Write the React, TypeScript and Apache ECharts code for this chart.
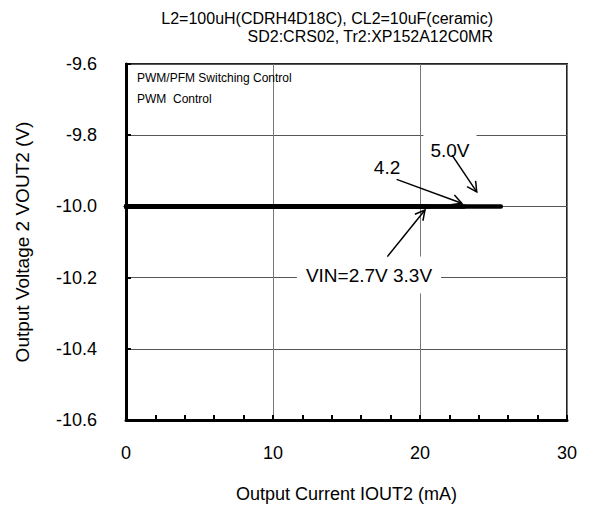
import React, { useEffect, useRef } from 'react';
import * as echarts from 'echarts';

// ---- data ----
const titleLines = ['L2=100uH(CDRH4D18C), CL2=10uF(ceramic)', 'SD2:CRS02, Tr2:XP152A12C0MR'];
const noteLines = ['PWM/PFM Switching Control', 'PWM  Control'];
const xName = 'Output Current IOUT2 (mA)';
const yName = 'Output Voltage 2 VOUT2 (V)';

const seriesNames = ['VIN=2.7V', 'VIN=3.3V', 'VIN=4.2V', 'VIN=5.0V'];
const iout27 = [0, 5, 10, 15, 20.3];
const vout27 = [-10.0, -10.0, -10.0, -10.0, -10.0];
const iout33 = [0, 5, 10, 15, 20.6];
const vout33 = [-10.0, -10.0, -10.0, -10.0, -10.0];
const iout42 = [0, 5, 10, 15, 20, 23.0];
const vout42 = [-10.0, -10.0, -10.0, -10.0, -10.0, -10.0];
const iout50 = [0, 5, 10, 15, 20, 25.5];
const vout50 = [-10.0, -10.0, -10.0, -10.0, -10.0, -10.0];

const annotationTexts = ['4.2', '5.0V', 'VIN=2.7V 3.3V'];
const annotationAt = [[17.76, -9.892], [22.04, -9.842], [16.53, -10.193]];
const arrowFrom = [[18.41, -9.924], [22.18, -9.856], [17.78, -10.141]];
const arrowTo = [[22.84, -9.991], [23.86, -9.959], [20.34, -10.010]];

const FONT = 'Liberation Sans, Arial, Helvetica, sans-serif';

export default function App() {
  const ref = useRef<HTMLDivElement>(null);
  useEffect(() => {
    if (!ref.current) return;
    const chart = echarts.init(ref.current, null, { renderer: 'svg' });
    const pairs = (xs: number[], ys: number[]) => xs.map((x, i) => [x, ys[i]]);
    const datasets = [pairs(iout27, vout27), pairs(iout33, vout33), pairs(iout42, vout42), pairs(iout50, vout50)];
    chart.setOption({
      animation: false,
      textStyle: { fontFamily: FONT },
      grid: { left: 126, right: 22, top: 64, bottom: 91, show: true, borderColor: '#222', borderWidth: 2 },
      xAxis: {
        type: 'value', min: 0, max: 30, interval: 10,
        name: xName, nameLocation: 'middle', nameGap: 65,
        nameTextStyle: { fontSize: 18, color: '#000', fontFamily: FONT },
        axisLine: { show: true, lineStyle: { color: '#000', width: 3 } },
        axisTick: { show: true, inside: true, length: 5, lineStyle: { color: '#000', width: 2 } },
        minorTick: { show: true, splitNumber: 5, length: 5, lineStyle: { color: '#000', width: 2 } },
        axisLabel: { fontSize: 18, color: '#000', margin: 24, fontFamily: FONT },
        splitLine: { show: true, lineStyle: { color: '#777', width: 1 } },
      },
      yAxis: {
        type: 'value', min: -10.6, max: -9.6, interval: 0.2,
        name: yName, nameLocation: 'middle', nameGap: 94, nameRotate: 90,
        nameTextStyle: { fontSize: 19, color: '#000', fontFamily: FONT },
        axisLine: { show: true, lineStyle: { color: '#000', width: 3 } },
        axisTick: { show: true, inside: true, length: 5, lineStyle: { color: '#000', width: 2 } },
        axisLabel: { fontSize: 18, color: '#000', margin: 29, fontFamily: FONT, formatter: (v: number) => v.toFixed(1) },
        splitLine: { show: true, lineStyle: { color: '#555', width: 1 } },
      },
      series: datasets.map((d, i) => ({
        name: seriesNames[i], type: 'line', data: d, showSymbol: false, symbol: 'none',
        lineStyle: { color: '#000', width: 4.5, cap: 'round' }, z: 5,
      })),
    });

    const toPx = (p: number[]) => chart.convertToPixel({ gridIndex: 0 }, p) as number[];
    const graphics: any[] = [];
    titleLines.forEach((t, i) => {
      graphics.push({ type: 'text', x: 493, y: 18 + i * 18, z: 100,
        style: { text: t, font: `16px ${FONT}`, fill: '#000', textAlign: 'right', align: 'right', textVerticalAlign: 'middle', verticalAlign: 'middle' } });
    });
    noteLines.forEach((t, i) => {
      graphics.push({ type: 'text', x: 137, y: 78 + i * 21, z: 100,
        style: { text: t, font: `12px ${FONT}`, fill: '#000', textAlign: 'left', align: 'left', textVerticalAlign: 'middle', verticalAlign: 'middle' } });
    });
    annotationTexts.forEach((t, i) => {
      const [x, y] = toPx(annotationAt[i]);
      const pad = i === 0 ? [0, 0] : i === 1 ? [8, 7] : [9, 9];
      graphics.push({ type: 'text', x, y, z: 100,
        style: { text: t, font: `19px ${FONT}`, fill: '#000', textAlign: 'center', align: 'center', textVerticalAlign: 'middle', verticalAlign: 'middle',
          backgroundColor: i === 0 ? 'transparent' : '#fff', padding: pad } });
    });
    arrowFrom.forEach((f, i) => {
      const [x1, y1] = toPx(f);
      const [x2, y2] = toPx(arrowTo[i]);
      const dx = x2 - x1, dy = y2 - y1;
      const len = Math.hypot(dx, dy);
      const ux = dx / len, uy = dy / len;
      const L = 11, a = (28 * Math.PI) / 180;
      const wing = (s: number) => [
        x2 - L * (ux * Math.cos(a) - s * uy * Math.sin(a)),
        y2 - L * (uy * Math.cos(a) + s * ux * Math.sin(a)),
      ];
      graphics.push({ type: 'line', z: 110, shape: { x1, y1, x2, y2 }, style: { stroke: '#000', lineWidth: 1.5 } });
      graphics.push({ type: 'polyline', z: 110, shape: { points: [wing(1), [x2, y2], wing(-1)] }, style: { stroke: '#000', lineWidth: 1.5, fill: null } });
    });
    chart.setOption({ graphic: graphics });
    return () => chart.dispose();
  }, []);
  return <div ref={ref} style={{ position: 'absolute', left: 0, top: 0, width: 589, height: 511 }} />;
}
